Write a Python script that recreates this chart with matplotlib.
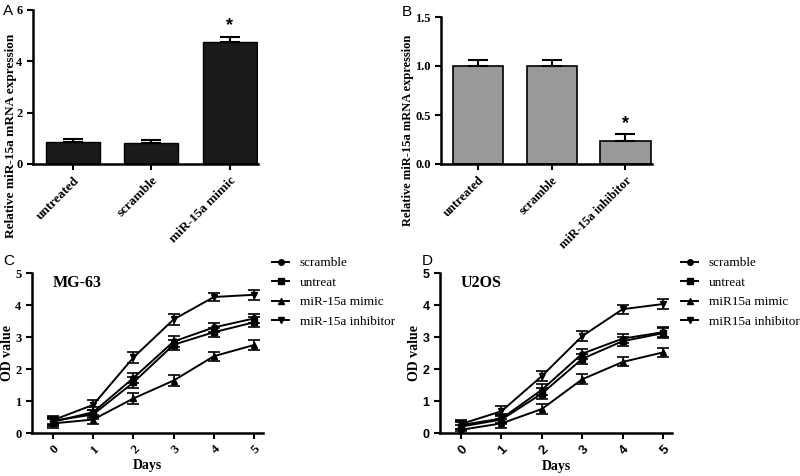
import numpy as np
import matplotlib.pyplot as plt
from matplotlib.lines import Line2D

# bar panels
bar_cats_a = ["untreated", "scramble", "miR-15a mimic"]
bar_vals_a = [0.84, 0.80, 4.77]
bar_err_a = [0.14, 0.13, 0.17]

bar_cats_b = ["untreated", "scramble", "miR-15a inhibitor"]
bar_vals_b = [1.0, 1.0, 0.235]
bar_err_b = [0.065, 0.065, 0.075]

# growth curves
days = [0, 1, 2, 3, 4, 5]
series_c = ["scramble", "untreat", "miR-15a mimic", "miR-15a inhibitor"]
series_d = ["scramble", "untreat", "miR15a mimic", "miR15a inhibitor"]

mg63_scramble = [0.35, 0.65, 1.72, 2.86, 3.30, 3.58]
mg63_untreat = [0.38, 0.58, 1.58, 2.76, 3.15, 3.46]
mg63_mimic = [0.30, 0.42, 1.08, 1.64, 2.40, 2.75]
mg63_inhibitor = [0.40, 0.88, 2.36, 3.55, 4.25, 4.32]
mg63_err = [0.13, 0.15, 0.16, 0.16, 0.14, 0.15]

u2os_scramble = [0.25, 0.45, 1.35, 2.48, 2.95, 3.15]
u2os_untreat = [0.20, 0.42, 1.23, 2.32, 2.87, 3.12]
u2os_mimic = [0.10, 0.30, 0.75, 1.68, 2.22, 2.52]
u2os_inhibitor = [0.28, 0.68, 1.78, 3.03, 3.87, 4.03]
u2os_err = [0.14, 0.15, 0.17, 0.16, 0.14, 0.15]

serif = "Liberation Serif"
sans = "Liberation Sans"

fig = plt.figure(figsize=(8, 4.76), dpi=100)


def px_axes(left, top, right, bottom):
    W, H = 800, 476
    return fig.add_axes([left / W, 1 - bottom / H, (right - left) / W, (bottom - top) / H])


def style(ax, tickfont=serif):
    for s in ["top", "right"]:
        ax.spines[s].set_visible(False)
    for s in ["left", "bottom"]:
        ax.spines[s].set_linewidth(1.8)
    ax.tick_params(width=1.5, length=4, direction="out")
    for lab in ax.get_yticklabels():
        lab.set_fontfamily(tickfont)
        lab.set_fontweight("bold")
        lab.set_fontsize(9)


# panel A
axA = px_axes(33, 10, 258, 164)
x = np.arange(len(bar_cats_a))
axA.bar(x, bar_vals_a, width=0.69, color="#1a1a1a", edgecolor="black", linewidth=1)
axA.errorbar(x, bar_vals_a, yerr=[np.zeros(3), bar_err_a], fmt="none", ecolor="black",
             capsize=7, elinewidth=1.5, capthick=1.5)
axA.set_ylim(0, 6)
axA.set_yticks([0, 2, 4, 6])
axA.set_xlim(-0.51, 2.36)
axA.set_xticks(x)
axA.set_xticklabels(bar_cats_a, rotation=45, ha="right", rotation_mode="anchor",
                    fontfamily=serif, fontweight="bold", fontsize=9.5)
style(axA)
axA.text(2, bar_vals_a[2] + bar_err_a[2] + 0.12, "*", ha="center", va="bottom",
         fontsize=13, fontweight="bold", fontfamily=sans)
axA.set_ylabel("Relative miR-15a mRNA expression", fontfamily=serif, fontweight="bold", fontsize=9.5)
axA.yaxis.set_label_coords(-0.07, 0.18)
fig.text(3 / 800, 1 - 15 / 476, "A", fontfamily=sans, fontsize=11)

# panel B
axB = px_axes(441, 17, 652, 164)
x = np.arange(len(bar_cats_b))
axB.bar(x, bar_vals_b, width=0.68, color="#999999", edgecolor="black", linewidth=1.2)
axB.errorbar(x, bar_vals_b, yerr=[np.zeros(3), bar_err_b], fmt="none", ecolor="black",
             capsize=7, elinewidth=1.5, capthick=1.5)
axB.set_ylim(0, 1.5)
axB.set_yticks([0, 0.5, 1.0, 1.5])
axB.set_yticklabels(["0.0", "0.5", "1.0", "1.5"])
axB.set_xlim(-0.50, 2.36)
axB.set_xticks(x)
axB.set_xticklabels(bar_cats_b, rotation=45, ha="right", rotation_mode="anchor",
                    fontfamily=serif, fontweight="bold", fontsize=9)
style(axB)
axB.text(2, bar_vals_b[2] + bar_err_b[2] + 0.02, "*", ha="center", va="bottom",
         fontsize=13, fontweight="bold", fontfamily=sans)
axB.set_ylabel("Relative miR-15a mRNA expression", fontfamily=serif, fontweight="bold", fontsize=9)
axB.yaxis.set_label_coords(-0.128, 0.23)
fig.text(402 / 800, 1 - 16 / 476, "B", fontfamily=sans, fontsize=11)


def growth(ax, ys, err, names, title, tickfont, letter, lx):
    markers = ["o", "s", "^", "v"]
    handles = []
    for y, m, n in zip(ys, markers, names):
        ax.errorbar(days, y, yerr=err, color="black", marker=m, markersize=4,
                    linewidth=1.4, elinewidth=1.2, capsize=4, capthick=1.2)
        handles.append(Line2D([], [], color="black", marker=m, markersize=4, linewidth=1.4, label=n))
    ax.set_ylim(0, 5)
    ax.set_xlim(-0.52, 5.22)
    ax.set_yticks([0, 1, 2, 3, 4, 5])
    ax.set_xticks(days)
    ax.set_xticklabels([str(d) for d in days], rotation=45, ha="right", rotation_mode="anchor",
                       fontfamily=tickfont, fontweight="bold", fontsize=9.5)
    style(ax, tickfont)
    ax.set_xlabel("Days", fontfamily=serif, fontweight="bold", fontsize=10, labelpad=2)
    ax.set_ylabel("OD value", fontfamily=serif, fontweight="bold", fontsize=10)
    ax.yaxis.set_label_coords(-0.08, 0.5)
    ax.text(0.09, 0.985, title, transform=ax.transAxes, ha="left", va="top",
            fontfamily=serif, fontweight="bold", fontsize=11.5)
    ax.legend(handles=handles, loc="upper left", bbox_to_anchor=(1.04, 1.1),
              frameon=False, borderaxespad=0, borderpad=0, handlelength=1.3,
              handletextpad=0.8, labelspacing=0.55,
              prop={"family": serif, "size": 9.5})
    fig.text(lx / 800, 1 - 265 / 476, letter, fontfamily=sans, fontsize=11)


# panel C
axC = px_axes(32, 273, 263, 433)
growth(axC, [mg63_scramble, mg63_untreat, mg63_mimic, mg63_inhibitor], mg63_err,
       series_c, "MG-63", serif, "C", 3)

# panel D
axD = px_axes(440, 273, 672, 433)
growth(axD, [u2os_scramble, u2os_untreat, u2os_mimic, u2os_inhibitor], u2os_err,
       series_d, "U2OS", sans, "D", 422)

fig.savefig("out.png", dpi=100)
